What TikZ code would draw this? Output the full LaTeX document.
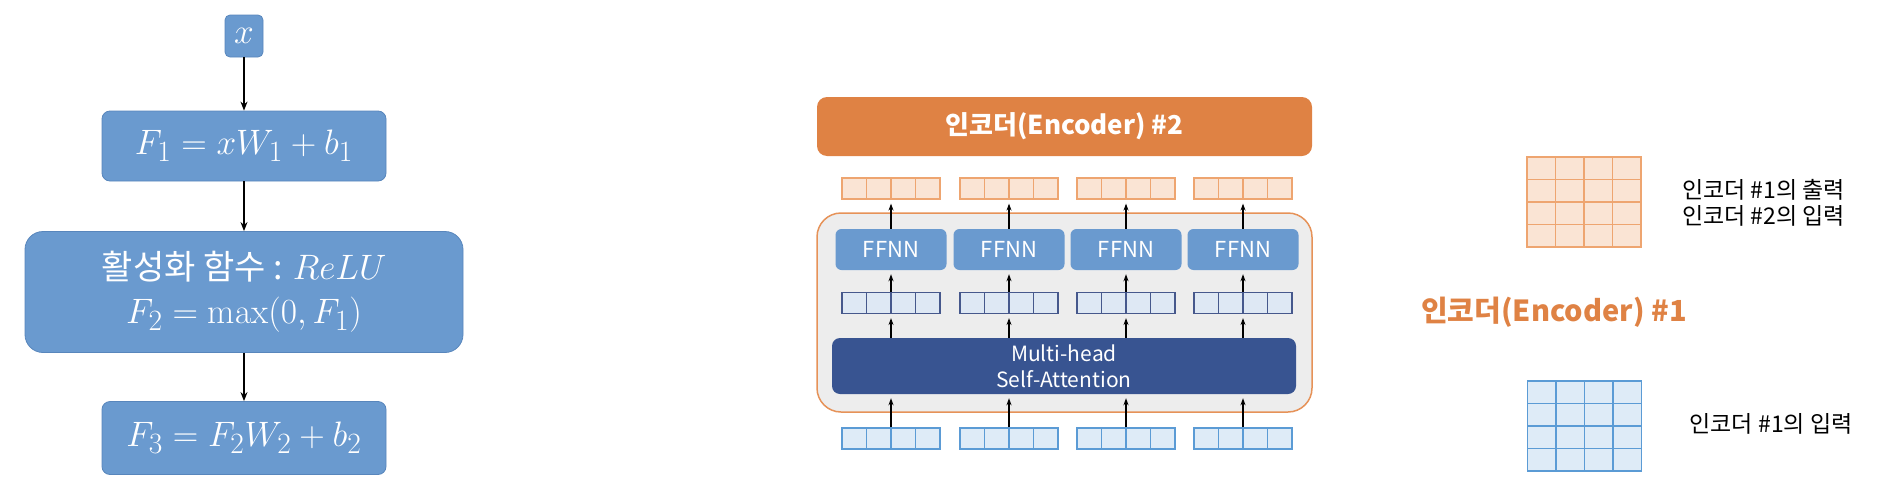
\documentclass[tikz,border=0pt]{standalone}
\usepackage{amsmath}
\usepackage{fontspec}
\usepackage{tikz}
\usetikzlibrary{positioning, arrows.meta, calc}
\newfontfamily\kr{Noto Sans CJK KR}
\newcommand{\fmath}[1]{\scalebox{1.42}{$#1$}}
\definecolor{fblue}{RGB}{106,154,207}
\definecolor{fedge}{RGB}{88,134,188}
\definecolor{encorange}{RGB}{223,130,68}
\definecolor{encline}{RGB}{230,146,88}
\definecolor{shell}{RGB}{237,237,237}
\definecolor{mhablue}{RGB}{56,84,145}
\definecolor{outfill}{RGB}{250,228,212}
\definecolor{outedge}{RGB}{238,165,112}
\definecolor{midfill}{RGB}{222,232,244}
\definecolor{midedge}{RGB}{70,88,140}
\definecolor{infill}{RGB}{222,235,247}
\definecolor{inedge}{RGB}{91,155,213}

\begin{document}
\begin{tikzpicture}[x=1pt, y=-1pt,
  fbox/.style={draw=fedge, fill=fblue, line width=0.8pt, rounded corners=8pt, text=white, inner sep=0pt, font=\fontsize{24.88}{30}\selectfont},
  encbox/.style={fill=encorange, rounded corners=10pt, text=white, font=\kr\bfseries\fontsize{26}{30}\selectfont},
  shellbox/.style={draw=encline, fill=shell, line width=1.5pt, rounded corners=24pt},
  ffnn/.style={fill=fblue, rounded corners=6pt, text=white, minimum width=111pt, minimum height=41pt, font=\kr\fontsize{22}{26}\selectfont},
  mha/.style={fill=mhablue, rounded corners=8pt, text=white, align=center, font=\kr\fontsize{21}{26}\selectfont},
  vec/.style 2 args={draw=#1, fill=#2, line width=1.2pt, minimum width=98pt, minimum height=21pt, inner sep=0pt,
    path picture={\foreach \k in {1,2,3} \draw[#1, line width=1.2pt] ([xshift=\k*24.5pt]path picture bounding box.north west) -- ([xshift=\k*24.5pt]path picture bounding box.south west);}},
  gridbox/.style 2 args={draw=#1, fill=#2, line width=1.2pt, minimum width=114pt, minimum height=90pt, inner sep=0pt,
    path picture={\foreach \f in {0.25,0.5,0.75} {
      \draw[#1, line width=1.2pt] ($(path picture bounding box.north west)!\f!(path picture bounding box.north east)$) -- ($(path picture bounding box.south west)!\f!(path picture bounding box.south east)$);
      \draw[#1, line width=1.2pt] ($(path picture bounding box.north west)!\f!(path picture bounding box.south west)$) -- ($(path picture bounding box.north east)!\f!(path picture bounding box.south east)$);}}},
  arr/.style={-{Stealth[length=9pt,width=7pt]}, line width=1.4pt},
  sarr/.style={-{Stealth[length=7pt,width=5pt]}, line width=1.4pt, shorten >=4pt},
  legend/.style={font=\kr\fontsize{23}{26}\selectfont, align=center}]
\useasboundingbox (0,0) rectangle (1900,498);

% feed-forward flow
\node[fbox, rounded corners=5pt, minimum width=38pt, minimum height=42pt] (x) at (244,36) {\fmath{x}};
\node[fbox, minimum width=284pt, minimum height=70pt] (f1) at (244,146) {\fmath{F_1 = xW_1 + b_1}};
\node[fbox, rounded corners=18pt, minimum width=438pt, minimum height=121pt, align=center] (act) at (244,292)
  {{\kr\fontsize{34}{40}\selectfont 활성화 함수 :} \fmath{ReLU}\\[14pt]\fmath{F_2 = \max(0, F_1)}};
\node[fbox, minimum width=284pt, minimum height=73pt] (f3) at (244,438) {\fmath{F_3 = F_2W_2 + b_2}};
\draw[arr] (x) -- (f1);
\draw[arr] (f1) -- (act);
\draw[arr] (act) -- (f3);

% encoders
\node[encbox, minimum width=495pt, minimum height=59pt] (enc2) at (1064.5,126.5) {인코더(Encoder) \#2};
\node[shellbox, minimum width=495pt, minimum height=199pt] (enc1) at (1064.5,312.5) {};
\node[mha, minimum width=464pt, minimum height=56pt] (attn) at (1064,366) {Multi-head\\Self-Attention};
\foreach \i/\xx in {1/891, 2/1009, 3/1126, 4/1243} {
  \node[vec={outedge}{outfill}] (out\i) at (\xx,188.5) {};
  \node[ffnn] (ff\i) at (\xx,249.5) {FFNN};
  \node[vec={midedge}{midfill}] (mid\i) at (\xx,303) {};
  \node[vec={inedge}{infill}] (in\i) at (\xx,438.5) {};
  \draw[sarr] (in\i.north) -- (in\i.north |- attn.south);
  \draw[sarr] (attn.north -| mid\i) -- (mid\i.south);
  \draw[sarr] (mid\i.north) -- (ff\i.south);
  \draw[sarr] (ff\i.north) -- (out\i.south);
}
\node[font=\kr\bfseries\fontsize{29}{34}\selectfont, text=encorange] (enc1lab) at (1554,312) {인코더(Encoder) \#1};

% legend
\node[gridbox={outedge}{outfill}] (outgrid) at (1584,202) {};
\node[gridbox={inedge}{infill}] (ingrid) at (1584.5,426) {};
\node[legend] (outtxt) at (1763.5,203) {인코더 \#1의 출력\\인코더 \#2의 입력};
\node[legend] (intxt) at (1771,424) {인코더 \#1의 입력};
\end{tikzpicture}
\end{document}
